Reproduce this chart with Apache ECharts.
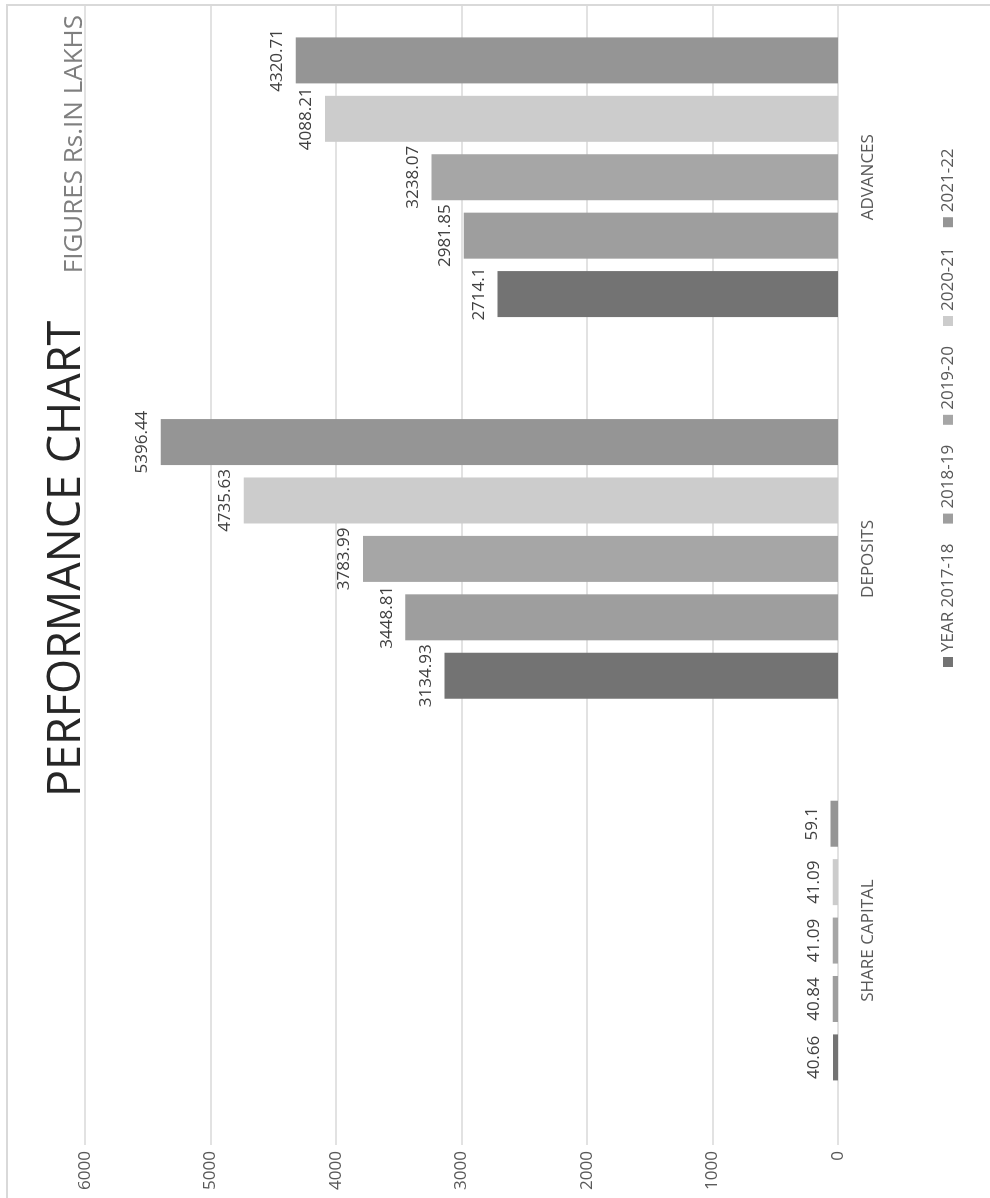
<!DOCTYPE html>
<html>
<head>
<meta charset="utf-8">
<script src="https://cdn.jsdelivr.net/npm/echarts@6/dist/echarts.min.js"></script>
<style>
  html, body { margin: 0; padding: 0; width: 990px; height: 1198px; overflow: hidden; background: #fff; }
  #wrap {
    position: absolute; left: 0; top: 0;
    width: 1198px; height: 990px;
    overflow: hidden;
    transform-origin: 0 0;
    transform: translate(0px, 1198px) rotate(-90deg);
  }
  #frame {
    position: absolute; left: 0; top: 6px; width: 1192px; height: 984px;
    border-top: 2px solid #d9d9d9; border-right: 2px solid #d9d9d9;
    box-sizing: content-box;
  }
  #chart { position: absolute; left: 0; top: 0; width: 1230px; height: 990px; }
</style>
</head>
<body>
<div id="wrap">
  <div id="frame"></div>
  <div id="chart"></div>
</div>
<script>
// ---- data ----
const categories = ['SHARE CAPITAL', 'DEPOSITS', 'ADVANCES'];
const seriesNames = ['YEAR 2017-18', '2018-19', '2019-20', '2020-21', '2021-22'];
const y2017_18 = [40.66, 3134.93, 2714.1];
const y2018_19 = [40.84, 3448.81, 2981.85];
const y2019_20 = [41.09, 3783.99, 3238.07];
const y2020_21 = [41.09, 4735.63, 4088.21];
const y2021_22 = [59.1, 5396.44, 4320.71];
const valueTicks = [0, 1000, 2000, 3000, 4000, 5000, 6000];
const titleText = 'PERFORMANCE CHART';
const subText = 'FIGURES Rs.IN LAKHS';

const seriesData = [y2017_18, y2018_19, y2019_20, y2020_21, y2021_22];
const colors = ['#737373', '#9e9e9e', '#a6a6a6', '#cccccc', '#959595'];
const FONT = '"Open Sans", "DejaVu Sans", sans-serif';

const chart = echarts.init(document.getElementById('chart'), null, { renderer: 'canvas' });

const option = {
  animation: false,
  backgroundColor: 'transparent',
  textStyle: { fontFamily: FONT },
  title: [
    {
      text: titleText, left: 401, top: 45, padding: 0,
      textStyle: { fontFamily: FONT, fontSize: 45, fontWeight: 'normal', color: '#262626', lineHeight: 45 }
    },
    {
      text: subText, right: 47, top: 62, padding: 0,
      textStyle: { fontFamily: FONT, fontSize: 26, fontWeight: 'normal', color: '#7f7f7f', lineHeight: 26 }
    }
  ],
  legend: {
    data: seriesNames,
    left: 531, top: 938, padding: 0,
    itemWidth: 10, itemHeight: 10, itemGap: 20,
    icon: 'rect',
    textStyle: { fontFamily: FONT, fontSize: 17, color: '#595959', lineHeight: 20 }
  },
  grid: [
    { left: 66.6, right: 18.4, top: 85, bottom: 152, containLabel: false },
    { left: 53, right: 37, top: 85, bottom: 152, containLabel: false }
  ],
  xAxis: [
    {
      gridIndex: 0, type: 'category', data: categories,
      axisLine: { show: false }, axisTick: { show: false },
      axisLabel: { fontFamily: FONT, fontSize: 17, color: '#595959', margin: 22 }
    },
    {
      gridIndex: 1, type: 'category', data: categories, show: false
    }
  ],
  yAxis: [
    {
      gridIndex: 0, type: 'value', min: valueTicks[0], max: valueTicks[valueTicks.length - 1], interval: 1000,
      show: false, splitLine: { show: false }
    },
    {
      gridIndex: 1, type: 'value', min: valueTicks[0], max: valueTicks[valueTicks.length - 1], interval: 1000,
      axisLine: { show: false }, axisTick: { show: false },
      axisLabel: { fontFamily: FONT, fontSize: 17, color: '#595959', margin: 6, formatter: v => String(v) },
      splitLine: { show: true, lineStyle: { color: '#d9d9d9', width: 1.5 } }
    }
  ],
  series: seriesNames.map((name, i) => ({
    name: name,
    type: 'bar',
    xAxisIndex: 0, yAxisIndex: 0,
    data: seriesData[i],
    barWidth: 46,
    barGap: '27%',
    itemStyle: { color: colors[i] },
    label: {
      show: true, position: 'top', distance: 10,
      fontFamily: FONT, fontSize: 17, color: '#404040'
    }
  }))
};
chart.setOption(option);
</script>
</body>
</html>
